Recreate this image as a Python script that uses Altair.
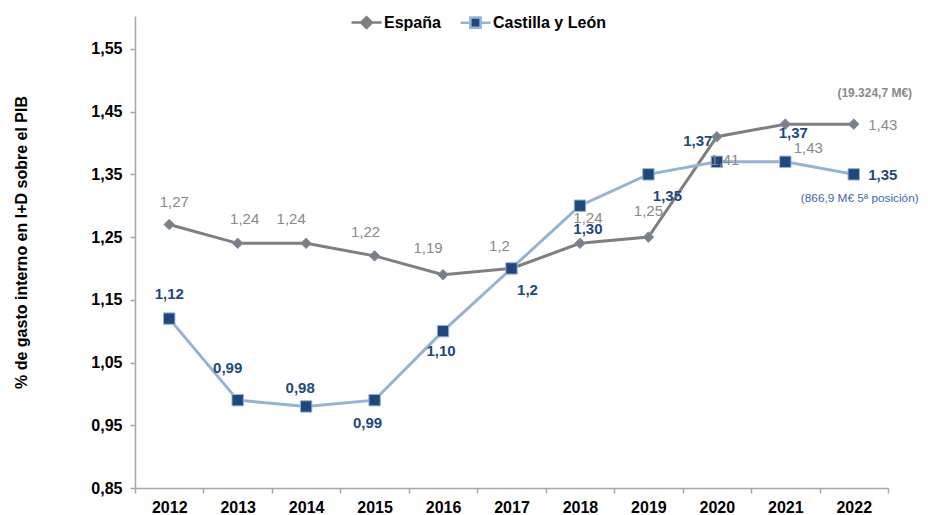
import altair as alt
import pandas as pd

# ---------------- data ----------------
years = [2012, 2013, 2014, 2015, 2016, 2017, 2018, 2019, 2020, 2021, 2022]
series_names = ["España", "Castilla y León"]
espana = [1.27, 1.24, 1.24, 1.22, 1.19, 1.20, 1.24, 1.25, 1.41, 1.43, 1.43]
cyl = [1.12, 0.99, 0.98, 0.99, 1.10, 1.20, 1.30, 1.35, 1.37, 1.37, 1.35]
espana_labels = ["1,27", "1,24", "1,24", "1,22", "1,19", "1,2", "1,24", "1,25", "1,41", "1,43", "1,43"]
cyl_labels = ["1,12", "0,99", "0,98", "0,99", "1,10", "1,2", "1,30", "1,35", "1,37", "1,37", "1,35"]
y_ticks = [0.85, 0.95, 1.05, 1.15, 1.25, 1.35, 1.45, 1.55]
note_espana = "(19.324,7 M€)"
note_cyl = "(866,9 M€ 5ª posición)"

# ---------------- label layout (pixel offsets of each value label) ----------------
espana_label_offsets = [(5, -23), (7, -24), (-15, -24), (-9, -24), (-15, -27), (-12, -22),
                        (8, -25), (0, -26), (8, 23), (23, 24), (29, 1)]
cyl_label_offsets = [(0, -25), (-10, -32), (-6, -18), (-7, 23), (-2, 20), (16, 22),
                     (8, 23), (19, 22), (-19, -21), (8, -29), (29, 1)]

# ---------------- styles ----------------
FONT = "Liberation Sans"
ESP_LINE = "#7f7f7f"
ESP_MARK = "#7f7f7f"
ESP_MARK_STROKE = "#6f8fc0"
ESP_TEXT = "#8a8a8a"
CYL_LINE = "#95b3d7"
CYL_MARK = "#1f497d"
CYL_TEXT = "#1f497d"
CYL_NOTE = "#3a6aa8"
AXIS_GRAY = "#a6a6a6"

rows = []
for s, vals, labs in [(series_names[0], espana, espana_labels), (series_names[1], cyl, cyl_labels)]:
    for yr, v, lb in zip(years, vals, labs):
        rows.append({"year": yr, "value": v, "series": s, "label": lb})
df = pd.DataFrame(rows)

x_enc = alt.X(
    "year:O",
    bandPosition=0.5,
    scale=alt.Scale(type="band", paddingInner=0, paddingOuter=0),
    axis=alt.Axis(
        title=None, labelAngle=0, tickBand="extent", tickSize=5, labelPadding=6,
        labelFont=FONT, labelFontSize=16, labelFontWeight="bold", labelColor="#000000",
        domainColor=AXIS_GRAY, domainWidth=1.5, tickColor=AXIS_GRAY, tickWidth=1.5,
    ),
)
y_enc = alt.Y(
    "value:Q",
    scale=alt.Scale(domain=[0.85, 1.6024], nice=False, zero=False),
    axis=alt.Axis(
        values=y_ticks, grid=False,
        labelExpr="replace(format(datum.value, '.2f'), '.', ',')",
        labelFont=FONT, labelFontSize=16, labelFontWeight="bold", labelColor="#000000",
        labelPadding=8, tickSize=5,
        domainColor=AXIS_GRAY, domainWidth=1.5, tickColor=AXIS_GRAY, tickWidth=1.5,
        title="% de gasto interno en I+D sobre el PIB",
        titleFont=FONT, titleFontSize=16, titleFontWeight="bold", titleColor="#000000",
        titleAngle=270, titleAlign="center", titleBaseline="middle",
        titleX=-114, titleY=226,
    ),
)

base = alt.Chart(df).encode(x=x_enc, y=y_enc)

layers = []
# lines
layers.append(base.transform_filter(alt.datum.series == series_names[0])
              .mark_line(color=ESP_LINE, strokeWidth=3))
layers.append(base.transform_filter(alt.datum.series == series_names[1])
              .mark_line(color=CYL_LINE, strokeWidth=3))
# markers
layers.append(base.transform_filter(alt.datum.series == series_names[0])
              .mark_point(shape="diamond", filled=True, fill=ESP_MARK, stroke=ESP_MARK_STROKE,
                          strokeWidth=1, size=110, opacity=1))
layers.append(base.transform_filter(alt.datum.series == series_names[1])
              .mark_point(shape="square", filled=True, fill=CYL_MARK, stroke=CYL_LINE,
                          strokeWidth=1, size=130, opacity=1))

# legend-only layer (invisible marks, legend symbols = line stub + marker)
leg = alt.Legend(
    title=None, orient="none", direction="horizontal", legendX=215, legendY=-10,
    labelFont=FONT, labelFontSize=16, labelFontWeight="bold", labelColor="#000000",
    labelOffset=1, columnPadding=14, symbolSize=900, symbolStrokeWidth=2.5,
    symbolOpacity=1,
)
esp_path = "M-1,0L-0.36,0M0.36,0L1,0M0,-0.36L0.36,0L0,0.36L-0.36,0Z"
cyl_path = "M-1,0L-0.34,0M0.34,0L1,0M-0.34,-0.34L0.34,-0.34L0.34,0.34L-0.34,0.34Z"
layers.append(base.mark_point(filled=True, opacity=0).encode(
    shape=alt.Shape("series:N", scale=alt.Scale(domain=series_names, range=[esp_path, cyl_path]), legend=leg),
    fill=alt.Fill("series:N", scale=alt.Scale(domain=series_names, range=[ESP_MARK, CYL_MARK]), legend=leg),
    stroke=alt.Stroke("series:N", scale=alt.Scale(domain=series_names, range=[ESP_LINE, CYL_LINE]), legend=leg),
))

# value labels
for s, offsets, color, weight in [
    (series_names[0], espana_label_offsets, ESP_TEXT, "normal"),
    (series_names[1], cyl_label_offsets, CYL_TEXT, "bold"),
]:
    for yr, (dx, dy) in zip(years, offsets):
        layers.append(
            base.transform_filter((alt.datum.series == s) & (alt.datum.year == yr))
            .mark_text(dx=dx, dy=dy, font=FONT, fontSize=15, fontWeight=weight, color=color,
                       align="center", baseline="middle")
            .encode(text="label:N")
        )

# notes next to the 2022 values
layers.append(
    base.transform_filter((alt.datum.series == series_names[0]) & (alt.datum.year == years[-1]))
    .mark_text(dx=21, dy=-31, font=FONT, fontSize=12, fontWeight="bold", color=ESP_TEXT,
               align="center", baseline="middle")
    .encode(text=alt.value(note_espana))
)
layers.append(
    base.transform_filter((alt.datum.series == series_names[1]) & (alt.datum.year == years[-1]))
    .mark_text(dx=6, dy=24, font=FONT, fontSize=11.8, fontWeight="normal", color=CYL_NOTE,
               align="center", baseline="middle")
    .encode(text=alt.value(note_cyl))
)

chart = (
    alt.layer(*layers)
    .properties(
        width=753, height=472,
        autosize=alt.AutoSizeParams(type="none"),
        padding={"left": 127, "top": 8, "right": 32, "bottom": 27},
        background="#ffffff",
    )
    .configure_view(stroke=None)
)

chart.save("out.html", embed_options={"renderer": "svg", "actions": False})
